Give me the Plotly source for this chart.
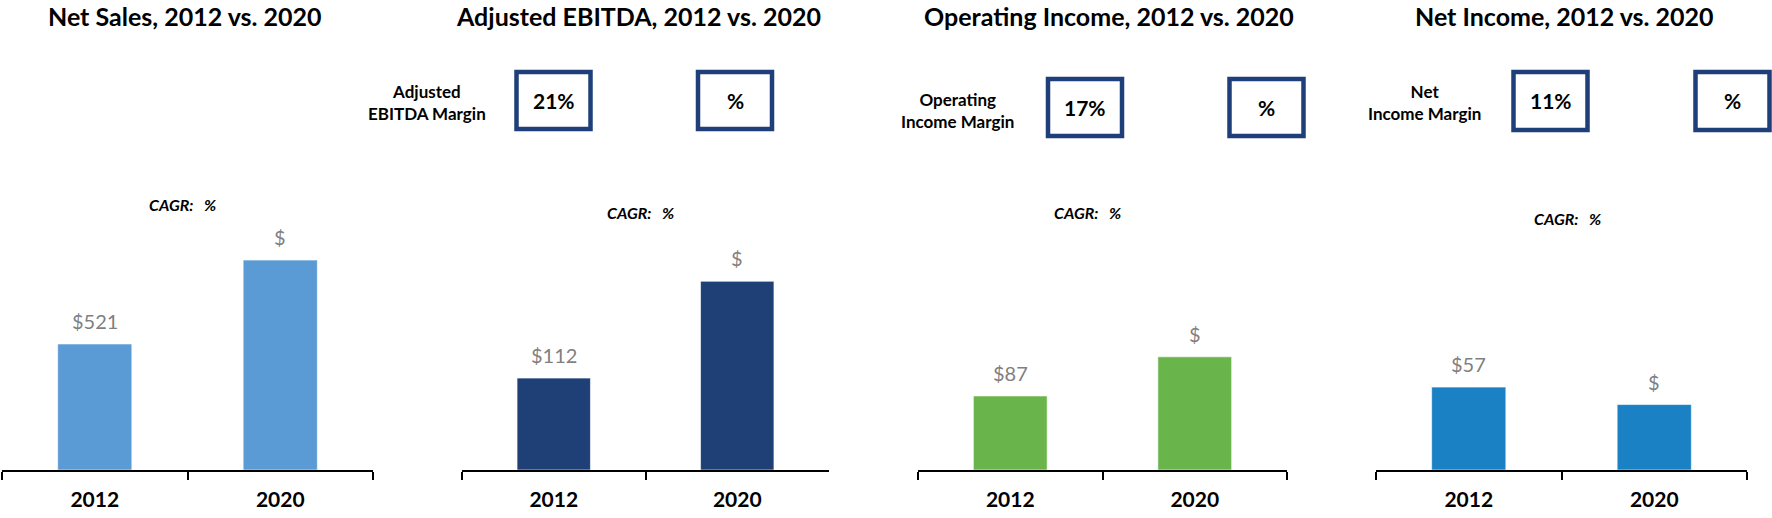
import plotly.graph_objects as go

W, H = 1772, 518

years = ["2012", "2020"]
titles = ["Net Sales, 2012 vs. 2020", "Adjusted EBITDA, 2012 vs. 2020",
          "Operating Income, 2012 vs. 2020", "Net Income, 2012 vs. 2020"]
net_sales = [521, 868]
adj_ebitda = [112, 230]
op_income = [87, 133]
net_income = [57, 45]
value_labels = [["$521", "$"], ["$112", "$"], ["$87", "$"], ["$57", "$"]]
margin_names = [None, "Adjusted<br>EBITDA Margin", "Operating<br>Income Margin", "Net<br>Income Margin"]
margin_values = [None, ["21%", "%"], ["17%", "%"], ["11%", "%"]]
cagr_text = "CAGR:\u00a0\u00a0\u00a0%"

series = [net_sales, adj_ebitda, op_income, net_income]
colors = ["#5B9BD5", "#1F3F77", "#6AB44C", "#1A81C4"]

def X(px):
    return px / W

def Y(py):
    return 1 - py / H

FONT = "Lato"
x_dom = [(2, 373), (462, 829), (918, 1287), (1376, 1747)]
y_ranges = [1323, 390, 376, 220]
title_x = [185, 638, 1109, 1564]
cagr_pos = [(182, 204), (640, 212), (1087, 212), (1567, 218)]
mlabel_pos = [None, (427, 103), (958, 110), (1424, 103)]
box_y = [None, (72, 129), (79, 136), (72, 130)]
box_cx = [None, (553.5, 735), (1085, 1266.5), (1550.5, 1732.5)]
BOX_W = 74

fig = go.Figure()
annotations = []
shapes = []
for i in range(4):
    xa = "x" if i == 0 else f"x{i+1}"
    ya = "y" if i == 0 else f"y{i+1}"
    fig.add_trace(go.Bar(x=years, y=series[i], marker=dict(color=colors[i], line=dict(width=1, color="rgba(255,255,255,0.6)")),
                         xaxis=xa, yaxis=ya, showlegend=False, hoverinfo="skip"))
    key = "" if i == 0 else str(i + 1)
    fig.layout["xaxis" + key] = dict(type="category", domain=[X(x_dom[i][0]), X(x_dom[i][1])], anchor=ya,
                                     range=[-0.5, len(years) - 0.5], autorange=False,
                                     showline=True, linecolor="black", linewidth=2,
                                     ticks="outside", tickson="boundaries", ticklen=8, tickwidth=2,
                                     tickcolor="black", showgrid=False, zeroline=False,
                                     tickfont=dict(family=FONT, size=21, color="black", weight="bold"),
                                     ticklabelstandoff=10, fixedrange=True)
    fig.layout["yaxis" + key] = dict(domain=[Y(470), Y(150)], anchor=xa, range=[0, y_ranges[i]],
                                     autorange=False, visible=False, showgrid=False, zeroline=False,
                                     fixedrange=True)
    # value labels
    for j, yr in enumerate(years):
        annotations.append(dict(x=j, y=series[i][j], xref=xa, yref=ya, text=value_labels[i][j],
                                showarrow=False, yanchor="bottom", yshift=9,
                                font=dict(family=FONT, size=20, color="#7F7F7F")))
    # title
    annotations.append(dict(x=X(title_x[i]), y=Y(16), xref="paper", yref="paper", text="<b>" + titles[i] + "</b>",
                            showarrow=False, xanchor="center", yanchor="middle",
                            font=dict(family=FONT, size=25, color="black")))
    # CAGR
    cx, cy = cagr_pos[i]
    annotations.append(dict(x=X(cx), y=Y(cy), xref="paper", yref="paper", text="<b><i>" + cagr_text + "</i></b>",
                            showarrow=False, xanchor="center", yanchor="middle",
                            font=dict(family=FONT, size=16, color="black")))
    if margin_names[i]:
        mx, my = mlabel_pos[i]
        annotations.append(dict(x=X(mx), y=Y(my), xref="paper", yref="paper", text="<b>" + margin_names[i] + "</b>",
                                showarrow=False, xanchor="center", yanchor="middle", align="center",
                                font=dict(family=FONT, size=17, color="black")))
        y0, y1 = box_y[i]
        for j, yr in enumerate(years):
            bx = box_cx[i][j]
            shapes.append(dict(type="rect", xref="paper", yref="paper",
                               x0=X(bx - BOX_W / 2), x1=X(bx + BOX_W / 2),
                               y0=Y(y1), y1=Y(y0), line=dict(color="#1F3F7A", width=4.5),
                               fillcolor="white", layer="below"))
            annotations.append(dict(x=X(bx), y=Y((y0 + y1) / 2), xref="paper", yref="paper",
                                    text="<b>" + margin_values[i][j] + "</b>", showarrow=False,
                                    xanchor="center", yanchor="middle",
                                    font=dict(family=FONT, size=21, color="black")))

fig.update_layout(width=W, height=H, margin=dict(l=0, r=0, t=0, b=0),
                  paper_bgcolor="white", plot_bgcolor="white", bargap=0.6,
                  annotations=annotations, shapes=shapes)
fig.write_html("out.html")
